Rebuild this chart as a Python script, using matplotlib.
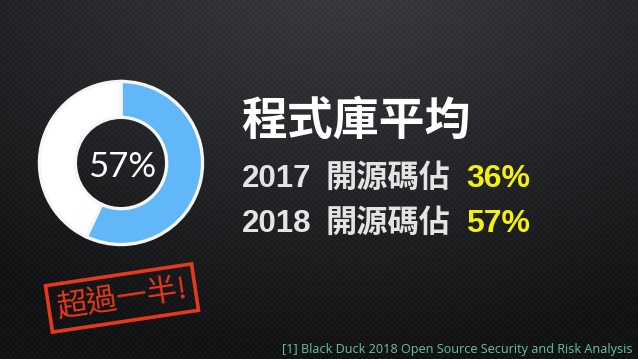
import numpy as np
import matplotlib
matplotlib.use("Agg")
import matplotlib.pyplot as plt

# ---- data ----
share_labels = ["開源碼", "其他"]
share_values = [57, 43]
center_label = "57%"
title_text = "程式庫平均"
year_labels = ["2017", "2018"]
row_label = "開源碼佔"
year_values = ["36%", "57%"]
stamp_text = "超過一半!"
footnote = "[1] Black Duck 2018 Open Source Security and Risk Analysis"

W, H = 638, 359
fig = plt.figure(figsize=(W / 100, H / 100), dpi=100)

# background
bg = fig.add_axes([0, 0, 1, 1])
yy, xx = np.mgrid[0:H, 0:W]
d = np.sqrt(((xx - W * 0.55) / (W * 0.9)) ** 2 + ((yy + 40) / (H * 1.1)) ** 2)
base = 0.24 - 0.17 * np.clip(d, 0, 1)
tex = ((xx // 3 + yy // 3) % 2) * 0.02 - ((xx % 3 == 0) & (yy % 3 == 0)) * 0.02
val = np.clip(base + tex, 0, 1)
img = np.dstack([val * 0.95, val * 0.97, val * 1.05])
bg.imshow(np.clip(img, 0, 1), extent=[0, W, H, 0], aspect="auto")
bg.set_xlim(0, W)
bg.set_ylim(H, 0)
bg.axis("off")

def fx(x):
    return x / W

def fy(y):
    return 1 - y / H

# donut
cx, cy, r = 121, 163, 84
ax = fig.add_axes([fx(cx - r), fy(cy + r), 2 * r / W, 2 * r / H])
ax.pie(share_values, colors=["#62b7f8", "#ffffff"], startangle=90, counterclock=False,
       radius=1.0, wedgeprops=dict(width=0.44, edgecolor="#f4f6f8", linewidth=2.4))
ax.set_xlim(-1.03, 1.03)
ax.set_ylim(-1.03, 1.03)
ax.set_aspect("equal")
ax.axis("off")
fig.text(fx(cx + 1), fy(167), center_label, color="white", fontsize=25,
         family=["Lato", "DejaVu Sans"], fontweight="normal",
         ha="center", va="center")

# title
cjk = ["Liberation Sans", "Noto Sans CJK TC"]
fig.text(fx(241), fy(123), title_text, color="white", fontsize=33,
         family=cjk, fontweight="bold", ha="left", va="center")

rows_y = [178.5, 223.5]
for yl, yv, ry in zip(year_labels, year_values, rows_y):
    fig.text(fx(242), fy(ry), yl, color="#e4e4e4", fontsize=22.5,
             family=cjk, fontweight="bold", ha="left", va="center")
    fig.text(fx(326), fy(ry), row_label, color="#e4e4e4", fontsize=22.5,
             family=cjk, fontweight="bold", ha="left", va="center")
    fig.text(fx(466), fy(ry), yv, color="#f2f20c", fontsize=23,
             family=cjk, fontweight="bold", ha="left", va="center")

# stamp
fig.text(fx(122), fy(298), stamp_text, color="#e5391d", fontsize=22,
         family=["Noto Sans CJK TC", "DejaVu Sans"], rotation=8.5,
         rotation_mode="anchor", ha="center", va="center",
         bbox=dict(boxstyle="square,pad=0.26", facecolor="none",
                   edgecolor="#e5391d", linewidth=2.6))

# footnote
fig.text(fx(633), fy(350), footnote, color="#67c2a4", fontsize=9.1,
         family=["Open Sans", "DejaVu Sans"], ha="right", va="center")

fig.savefig("out.png", dpi=100)
